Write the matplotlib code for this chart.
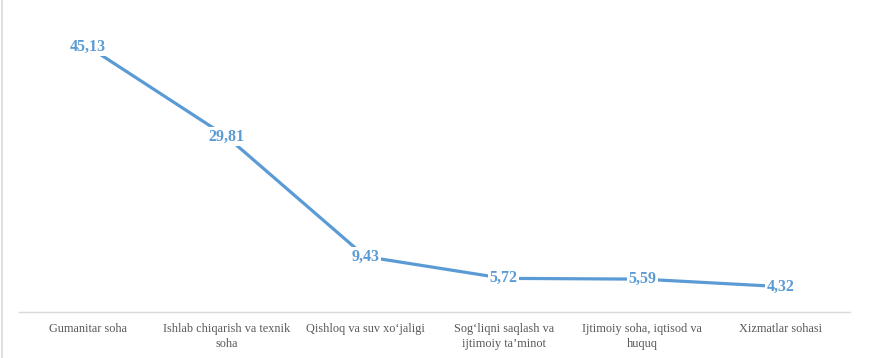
import matplotlib.pyplot as plt
from matplotlib.lines import Line2D

categories = [
    "Gumanitar soha",
    "Ishlab chiqarish va texnik\nsoha",
    "Qishloq va suv xo\u2018jaligi",
    "Sog\u2018liqni saqlash va\nijtimoiy ta\u2019minot",
    "Ijtimoiy soha, iqtisod va\nhuquq",
    "Xizmatlar sohasi",
]
values = [45.13, 29.81, 9.43, 5.72, 5.59, 4.32]

W, H = 869, 358
fig = plt.figure(figsize=(W / 100, H / 100), dpi=100)
ax = fig.add_axes([19 / W, (H - 312) / H, 831 / W, (312 - 18) / H])

x = list(range(len(values)))
ax.plot(x, values, color="#5B9BD5", lw=2.3, solid_capstyle="round", zorder=2)
for xi, v in zip(x, values):
    ax.text(xi, v, f"{v:.2f}".replace(".", ","), ha="center", va="center",
            family="Liberation Serif", fontweight="bold", fontsize=11.5,
            color="#5B9BD5", zorder=3,
            bbox=dict(boxstyle="square,pad=0.1", fc="white", ec="none"))

ax.set_xlim(-0.5, len(values) - 0.5)
ax.set_ylim(0, 50)
ax.set_xticks(x)
ax.set_xticklabels(categories, family="Liberation Serif", fontsize=8.8,
                   color="#595959", linespacing=1.35)
ax.tick_params(axis="x", length=0, pad=8)
ax.set_yticks([])
for s in ["top", "right", "left"]:
    ax.spines[s].set_visible(False)
ax.spines["bottom"].set_color("#D9D9D9")
ax.spines["bottom"].set_linewidth(1)

fig.add_artist(Line2D([1.5 / W, 1.5 / W], [0, 1], color="#D9D9D9", lw=1.2))

fig.savefig("out.png", dpi=100)
